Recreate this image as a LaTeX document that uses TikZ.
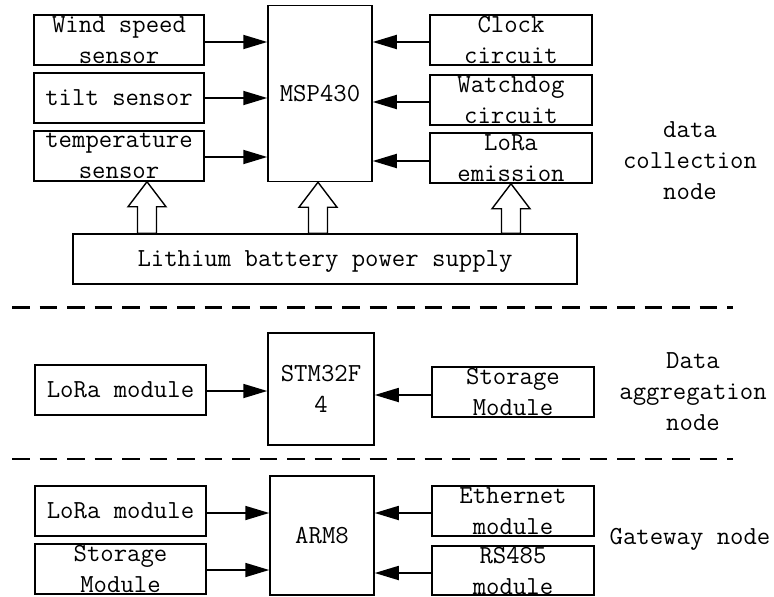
\documentclass[tikz,border=0pt]{standalone}
\usepackage{fontspec}
\usetikzlibrary{arrows.meta,calc}
\begin{document}
\begin{tikzpicture}[x=1pt,y=-1pt,
  box/.style={draw,line width=1.5pt,inner sep=0pt,align=center,font=\ttfamily\fontsize{26}{31}\selectfont},
  lbl/.style={inner sep=0pt,align=center,font=\ttfamily\fontsize{26}{31}\selectfont},
  arr/.style={line width=1.8pt,-{Triangle[length=24pt,width=14pt]}},
  hollow/.style={draw,line width=1.4pt,fill=white,line join=miter},
  sep/.style={line width=2.6pt,dash pattern=on 17.7pt off 9.8pt}]
\useasboundingbox (0,0) rectangle (774,597);
% ---- data collection node
\node[box,minimum width=170pt,minimum height=50pt] (wind) at (119,40) {Wind speed\\sensor};
\node[box,minimum width=170pt,minimum height=50pt] (tilt) at (119,98) {tilt sensor};
\node[box,minimum width=170pt,minimum height=50pt] (temp) at (119,156) {temperature\\sensor};
\node[box,minimum width=104pt,minimum height=176pt] (msp) at (320,93.5) {MSP430};
\node[box,minimum width=162pt,minimum height=50pt] (clock) at (511,40) {Clock\\circuit};
\node[box,minimum width=162pt,minimum height=50pt] (wdog) at (511,100) {Watchdog\\circuit};
\node[box,minimum width=162pt,minimum height=50pt] (lora) at (511,158) {LoRa\\emission};
\node[box,minimum width=504pt,minimum height=50pt,text depth=0pt] (batt) at (325,259) {Lithium battery power supply};
\node[lbl] (lab1) at (690,161) {data\\collection\\node};
\draw[arr] ([yshift=-2pt]wind.east) -- ([yshift=-2pt]wind.east -| msp.west);
\draw[arr] (tilt.east) -- (tilt.east -| msp.west);
\draw[arr] ([yshift=-1pt]temp.east) -- ([yshift=-1pt]temp.east -| msp.west);
\draw[arr] ([yshift=-2pt]clock.west) -- ([yshift=-2pt]clock.west -| msp.east);
\draw[arr] ([yshift=-2pt]wdog.west) -- ([yshift=-2pt]wdog.west -| msp.east);
\draw[arr] ([yshift=-3pt]lora.west) -- ([yshift=-3pt]lora.west -| msp.east);
% hollow arrows
\coordinate (t1) at ($(temp.south)+(28,0)$);
\coordinate (t2) at ($(msp.south)+(-2,0)$);
\coordinate (t3) at (lora.south);
\foreach \t in {t1,t2,t3}{
  \coordinate (b) at (\t |- batt.north);
  \draw[hollow] (\t) -- ($(\t)+(19,25)$) -- ($(\t)+(9.5,25)$) -- ($(b)+(9.5,0)$)
     -- ($(b)+(-9.5,0)$) -- ($(\t)+(-9.5,25)$) -- ($(\t)+(-19,25)$) -- cycle;
}
% separators
\coordinate (s1a) at (12,307.5); \coordinate (s1b) at (733,307.5);
\coordinate (s2a) at (12,459); \coordinate (s2b) at (733,459);
\draw[sep] (s1a) -- (s1b);
\draw[sep] (s2a) -- (s2b);
% ---- data aggregation node
\node[box,minimum width=171pt,minimum height=50pt] (lora2) at (120.5,390) {LoRa module};
\node[box,minimum width=106pt,minimum height=112pt] (stm) at (321,389) {STM32F\\4};
\node[box,minimum width=162pt,minimum height=50pt] (stor2) at (513,392) {Storage\\Module};
\node[lbl] (lab2) at (693,392) {Data\\aggregation\\node};
\draw[arr] ([yshift=-1pt]lora2.east) -- ([yshift=-1pt]lora2.east -| stm.west);
\draw[arr] ([yshift=-3pt]stor2.west) -- ([yshift=-3pt]stor2.west -| stm.east);
% ---- gateway node
\node[box,minimum width=171pt,minimum height=50pt] (lora3) at (120.5,511) {LoRa module};
\node[box,minimum width=171pt,minimum height=50pt] (stor3) at (120.5,569) {Storage\\Module};
\node[box,minimum width=104pt,minimum height=119pt] (arm) at (322,535.5) {ARM8};
\node[box,minimum width=162pt,minimum height=50pt] (eth) at (513,511) {Ethernet\\module};
\node[box,minimum width=162pt,minimum height=49pt] (rs) at (513,570.5) {RS485\\module};
\node[lbl,anchor=base] (lab3) at (690,544) {Gateway node};
\draw[arr] ([yshift=-2pt]lora3.east) -- ([yshift=-2pt]lora3.east -| arm.west);
\draw[arr] ([yshift=-1pt]stor3.east) -- ([yshift=-1pt]stor3.east -| arm.west);
\draw[arr] ([yshift=-2pt]eth.west) -- ([yshift=-2pt]eth.west -| arm.east);
\draw[arr] ([yshift=-2.5pt]rs.west) -- ([yshift=-2.5pt]rs.west -| arm.east);
\end{tikzpicture}
\end{document}
